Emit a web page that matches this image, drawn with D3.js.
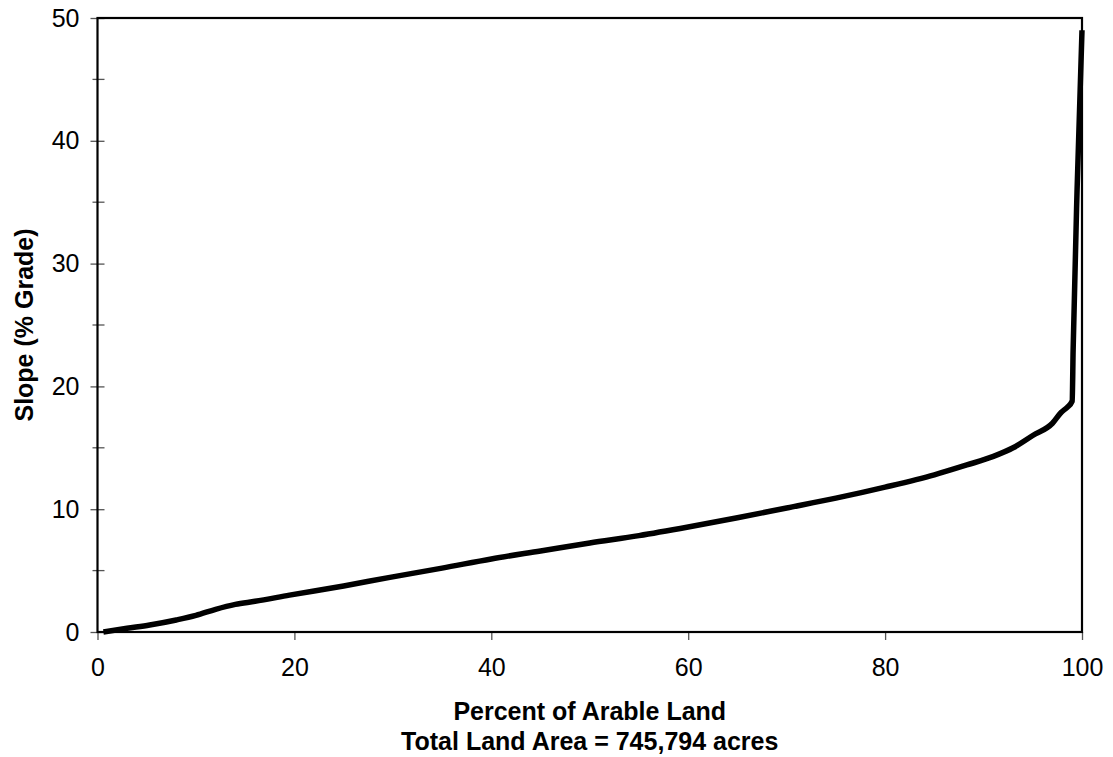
<!DOCTYPE html>
<html>
<head>
<meta charset="utf-8">
<script src="https://cdn.jsdelivr.net/npm/d3@7"></script>
<style>
  body { margin: 0; background: #fff; overflow: hidden; }
  svg { display: block; }
  text { font-family: "Liberation Sans", Arial, sans-serif; }
</style>
</head>
<body>
<script>
// percent of arable land (x) vs slope in % grade (y)
const percentLand = [0.6, 3, 5.3, 8, 10, 12, 14, 16, 19.5, 25, 29.7, 35, 40, 45, 50, 55, 60, 65, 70, 75, 80, 85, 88.3, 91, 93, 95, 97, 97.9, 98.5, 99, 99.1, 99.5, 100];
const slopeGrade  = [0, 0.3, 0.57, 0.98, 1.35, 1.85, 2.25, 2.5, 3.0, 3.75, 4.45, 5.2, 5.95, 6.6, 7.25, 7.85, 8.55, 9.3, 10.1, 10.9, 11.8, 12.8, 13.6, 14.3, 15.0, 16.0, 17.0, 17.9, 18.3, 18.8, 23, 36, 49];

const xTicks = [0, 20, 40, 60, 80, 100];
const yTicks = [0, 10, 20, 30, 40, 50];
const yMinorTicks = [5, 15, 25, 35, 45];

const w = 1113;
const h = 757;
const margin = { top: 18, right: 31, bottom: 125, left: 97.5 };
const innerWidth = w - margin.left - margin.right;
const innerHeight = h - margin.top - margin.bottom;

const data = percentLand.map((p, i) => ({ x: p, y: slopeGrade[i] }));

const svg = d3.select("body")
    .append("svg")
    .attr("width", w)
    .attr("height", h);

const xScale = d3.scaleLinear().domain([0, 100]).range([0, innerWidth]);
const yScale = d3.scaleLinear().domain([0, 50]).range([innerHeight, 0]);

const g = svg.append("g")
    .attr("transform", `translate(${margin.left},${margin.top})`);

// x axis: ticks outside only
const xAxisG = g.append("g")
    .attr("transform", `translate(0,${innerHeight})`)
    .call(d3.axisBottom(xScale).tickValues(xTicks).tickSize(8).tickPadding(18).tickFormat(d3.format("d")));

// y axis: ticks cross the axis line
const yAxisG = g.append("g")
    .call(d3.axisLeft(yScale).tickValues(yTicks).tickSize(7).tickPadding(11).tickFormat(d3.format("d")));

yAxisG.selectAll(".tick line").attr("x2", 7).attr("x1", -7);

g.append("g")
    .selectAll("line")
    .data(yMinorTicks)
    .enter()
    .append("line")
    .attr("x1", -5)
    .attr("x2", 7)
    .attr("y1", d => yScale(d))
    .attr("y2", d => yScale(d))
    .attr("stroke", "#555")
    .attr("stroke-width", 1.3);

[xAxisG, yAxisG].forEach(a => {
    a.select(".domain").remove();
    a.selectAll(".tick line").attr("stroke", "#555").attr("stroke-width", 1.3);
    a.selectAll(".tick text").attr("font-size", 25).attr("fill", "#000")
        .attr("font-family", "Liberation Sans, Arial, sans-serif");
});

// plot frame
g.append("rect")
    .attr("x", 0)
    .attr("y", 0)
    .attr("width", innerWidth)
    .attr("height", innerHeight)
    .attr("fill", "none")
    .attr("stroke", "#000")
    .attr("stroke-width", 2.2);

const line = d3.line()
    .x(d => xScale(d.x))
    .y(d => yScale(d.y))
    .curve(d3.curveMonotoneX);

g.append("path")
    .datum(data)
    .attr("d", line)
    .attr("fill", "none")
    .attr("stroke", "#000")
    .attr("stroke-width", 5.5)
    .attr("stroke-linejoin", "round");

svg.append("text")
    .attr("x", margin.left + innerWidth / 2)
    .attr("y", 720)
    .attr("text-anchor", "middle")
    .attr("font-size", 25)
    .attr("font-weight", "bold")
    .text("Percent of Arable Land");

svg.append("text")
    .attr("x", margin.left + innerWidth / 2)
    .attr("y", 750)
    .attr("text-anchor", "middle")
    .attr("font-size", 25)
    .attr("font-weight", "bold")
    .text("Total Land Area = 745,794 acres");

svg.append("text")
    .attr("transform", `translate(33,${margin.top + innerHeight / 2}) rotate(-90)`)
    .attr("text-anchor", "middle")
    .attr("font-size", 25)
    .attr("font-weight", "bold")
    .text("Slope (% Grade)");
</script>
</body>
</html>
